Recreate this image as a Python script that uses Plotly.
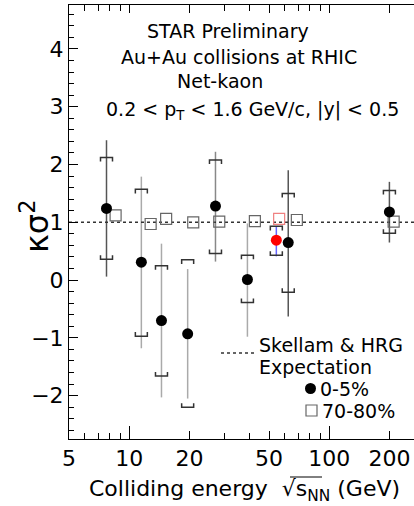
import numpy as np
import plotly.graph_objects as go

# ---- data ----
energy_c = [7.7, 11.5, 14.5, 19.6, 27, 39, 54.4, 62.4, 200]
k_c = [1.24, 0.31, -0.70, -0.93, 1.28, 0.01, 0.69, 0.65, 1.18]
stat_hi = [2.42, 1.79, 0.63, 0.19, 2.22, 0.98, 0.93, 1.90, 1.70]
stat_lo = [0.06, -1.18, -2.03, -2.05, 0.32, -0.98, 0.41, -0.63, 0.65]
sys_hi = [2.12, 1.57, 0.25, 0.35, 2.08, 0.43, 0.93, 1.50, 1.55]
sys_lo = [0.36, -0.97, -1.66, -2.20, 0.46, -0.39, 0.43, -0.21, 0.81]
stat_col = ["#555555", "#aaaaaa", "#aaaaaa", "#aaaaaa", "#888888", "#aaaaaa", "#6666ff", "#555555", "#555555"]
mk_col = ["black"] * 6 + ["red"] + ["black"] * 2

energy_p = [8.55, 12.8, 15.3, 20.9, 28.2, 42.5, 56.2, 68.9, 210]
k_p = [1.12, 0.97, 1.06, 1.00, 1.01, 1.02, 1.06, 1.04, 1.01]
p_col = ["#666666"] * 6 + ["#f08080"] + ["#666666"] * 2

expectation = 1.0
xtick_vals = [5, 10, 20, 50, 100, 200]
xtick_text = ["5", "10", "20", "50", "100", "200"]
xminor_vals = [6, 7, 8, 9, 30, 40, 60, 70, 80, 90]

FONT = "DejaVu Sans"
W, H = 414, 506
L, R, T, B = 69, 414, 5, 439
x0 = np.log10(5)
x1 = x0 + (R - L) / 200.0
y0, y1 = -2.75, 4.76

def px(xp, yp):
    return (xp - L) / (R - L), (B - yp) / (B - T)

fig = go.Figure()

# stat error bars (circles)
for i in range(len(energy_c)):
    fig.add_trace(go.Scatter(
        x=[energy_c[i]] * 2, y=[stat_lo[i], stat_hi[i]], mode="lines",
        line=dict(color=stat_col[i], width=1.5), showlegend=False, hoverinfo="skip"))

# systematic brackets
dw = 0.03
dh = 0.07
bx, by = [], []
for e, hi, lo in zip(energy_c, sys_hi, sys_lo):
    a, b = e / 10 ** dw, e * 10 ** dw
    bx += [a, a, b, b, None, a, a, b, b, None]
    by += [hi - dh, hi, hi, hi - dh, None, lo + dh, lo, lo, lo + dh, None]
fig.add_trace(go.Scatter(x=bx, y=by, mode="lines", line=dict(color="#333333", width=1.5),
                         showlegend=False, hoverinfo="skip"))

# expectation line
fig.add_trace(go.Scatter(x=[10 ** x0, 10 ** x1], y=[expectation] * 2, mode="lines",
                         line=dict(color="#333333", width=1.5, dash="dot"),
                         showlegend=False, hoverinfo="skip"))

# 70-80% squares
fig.add_trace(go.Scatter(x=energy_p, y=k_p, mode="markers",
                         marker=dict(symbol="square-open", size=11, color=p_col, line=dict(width=1.2)),
                         showlegend=False))
# 0-5% circles
fig.add_trace(go.Scatter(x=energy_c, y=k_c, mode="markers",
                         marker=dict(symbol="circle", size=11, color=mk_col, line=dict(width=0)),
                         showlegend=False))

# overlay axis for long decade ticks
fig.add_trace(go.Scatter(x=[10], y=[0], xaxis="x2", mode="markers",
                         marker=dict(opacity=0), showlegend=False, hoverinfo="skip"))

fig.update_layout(
    width=W, height=H,
    margin=dict(l=L, r=W - R, t=T, b=H - B),
    paper_bgcolor="white", plot_bgcolor="white",
    font=dict(family=FONT, color="black"),
    xaxis=dict(type="log", range=[x0, x1], showgrid=False, zeroline=False,
               showline=True, linecolor="black", linewidth=1, mirror="ticks",
               ticks="inside", ticklen=8, tickcolor="black", tickwidth=1,
               tickmode="array", tickvals=xtick_vals, ticktext=xtick_text,
               tickfont=dict(size=22, family=FONT),
               minor=dict(tickmode="array", tickvals=xminor_vals, ticks="inside",
                          ticklen=6, tickcolor="black", tickwidth=1, showgrid=False)),
    xaxis2=dict(type="log", range=[x0, x1], overlaying="x", anchor="y", side="bottom",
                showgrid=False, zeroline=False, showline=False, showticklabels=False,
                ticks="inside", ticklen=13, tickcolor="black", tickwidth=1,
                tickmode="array", tickvals=[10, 100]),
    yaxis=dict(range=[y0, y1], showgrid=False, zeroline=False,
               showline=True, linecolor="black", linewidth=1,
               ticks="inside", ticklen=9, tickcolor="black", tickwidth=1,
               tickmode="linear", tick0=0, dtick=1,
               tickfont=dict(size=22, family=FONT),
               minor=dict(dtick=0.2, ticks="inside", ticklen=5, tickcolor="black",
                          tickwidth=1, showgrid=False)),
)

def ann(text, xp, yp, size, xanchor="center", **kw):
    ax, ay = px(xp, yp)
    fig.add_annotation(text=text, x=ax, y=ay, xref="paper", yref="paper",
                       xanchor=xanchor, yanchor="middle",
                       showarrow=False, font=dict(size=size, family=FONT, color="black"), **kw)

ann("STAR Preliminary", 228, 31, 19)
ann("Au+Au collisions at RHIC", 239, 57, 19)
ann("Net-kaon", 220, 81, 19)
ann("0.2 &lt; p<sub>T</sub> &lt; 1.6 GeV/c, |y| &lt; 0.5", 252, 110, 19)

ann("Skellam &amp; HRG", 257, 345, 19, xanchor="left")
ann("Expectation", 257, 367, 19, xanchor="left")
ann("0-5%", 318, 389, 19, xanchor="left")
ann("70-80%", 320, 411, 19, xanchor="left")

ann("κσ<sup>2</sup>", 35, 227, 32, textangle=-90)
ann("Colliding energy  √s<sub>NN</sub> (GeV)", 244, 490, 22)

# overline of the square root
ox0, oy0 = px(290, 477)
ox1, _ = px(322, 477)
fig.add_shape(type="line", xref="paper", yref="paper", x0=ox0, x1=ox1, y0=oy0, y1=oy0,
              line=dict(color="black", width=1))

# legend glyphs
lx0, ly0 = px(221, 353)
lx1, _ = px(256, 353)
fig.add_shape(type="line", xref="paper", yref="paper", x0=lx0, x1=lx1, y0=ly0, y1=ly0,
              line=dict(color="#333333", width=1.5, dash="dot"))
cx0, cy0 = px(305, 394)
cx1, cy1 = px(316, 383)
fig.add_shape(type="circle", xref="paper", yref="paper", x0=cx0, y0=cy0, x1=cx1, y1=cy1,
              fillcolor="black", line=dict(width=0))
sx0, sy0 = px(306, 416)
sx1, sy1 = px(317, 405)
fig.add_shape(type="rect", xref="paper", yref="paper", x0=sx0, y0=sy0, x1=sx1, y1=sy1,
              line=dict(color="#666666", width=1.2))

fig.write_html("out.html")
